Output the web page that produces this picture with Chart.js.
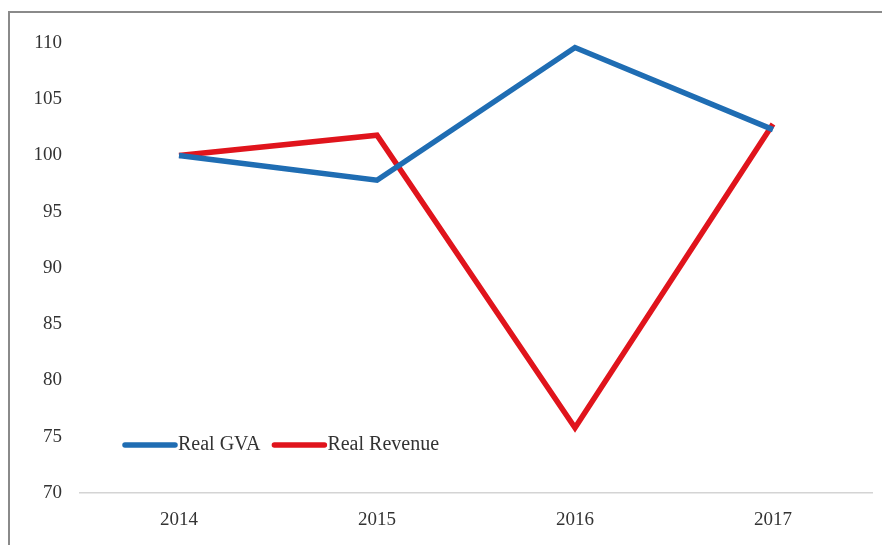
<!DOCTYPE html>
<html>
<head>
<meta charset="utf-8">
<script src="https://cdn.jsdelivr.net/npm/chart.js@4/dist/chart.umd.min.js"></script>
<style>
  body { margin: 0; background: #fff; }
  #wrap { position: relative; width: 882px; height: 545px; overflow: hidden; }
  #frame { position: absolute; left: 8px; top: 11px; width: 900px; height: 600px; border: 2px solid #8a8a8a; box-sizing: border-box; }
  #myChart { position: absolute; left: 0; top: 0; }
</style>
</head>
<body>
<div id="wrap">
  <div id="frame"></div>
  <canvas id="myChart" width="882" height="545"></canvas>
</div>
<script>
const years = ["2014", "2015", "2016", "2017"];
const realGVA = [100, 97.8, 109.6, 102.3];
const realRevenue = [100, 101.8, 75.8, 102.8];

// legend drawn inside the plot, bottom-left
const innerLegend = {
  id: "innerLegend",
  afterDatasetsDraw(chart) {
    const ctx = chart.ctx;
    let x = 123;
    const y = 445;
    ctx.save();
    ctx.font = "20px 'Liberation Serif'";
    ctx.textBaseline = "middle";
    chart.data.datasets.forEach((ds) => {
      ctx.strokeStyle = ds.borderColor;
      ctx.lineWidth = 5.5;
      ctx.lineCap = "round";
      ctx.beginPath();
      ctx.moveTo(x + 2, y);
      ctx.lineTo(x + 52, y);
      ctx.stroke();
      ctx.fillStyle = "#333";
      ctx.fillText(ds.label, x + 55, y);
      x += 55 + ctx.measureText(ds.label).width + 12;
    });
    ctx.restore();
  },
};

const ctx = document.getElementById("myChart");

new Chart(ctx, {
  type: "line",
  data: {
    labels: years,
    datasets: [
      {
        label: "Real GVA",
        data: realGVA,
        borderColor: "#1f6db3",
        borderWidth: 5.5,
        pointRadius: 0,
        tension: 0,
      },
      {
        label: "Real Revenue",
        data: realRevenue,
        borderColor: "#e0141c",
        borderWidth: 5.5,
        pointRadius: 0,
        tension: 0,
      },
    ],
  },
  options: {
    responsive: false,
    animation: false,
    layout: { padding: { top: 43, right: 10, left: 0, bottom: 0 } },
    plugins: {
      legend: { display: false },
      tooltip: { enabled: false },
    },
    scales: {
      x: {
        offset: true,
        grid: { display: false, drawTicks: false },
        border: { display: true, color: "#d4d4d4", width: 1.5 },
        ticks: {
          color: "#333",
          font: { family: "'Liberation Serif'", size: 19 },
          padding: 16,
        },
        afterFit(scale) { scale.height = 52; },
      },
      y: {
        min: 70,
        max: 110,
        grid: { display: false, drawTicks: false },
        border: { display: false },
        ticks: {
          stepSize: 5,
          color: "#333",
          font: { family: "'Liberation Serif'", size: 19 },
          padding: 18,
        },
        afterFit(scale) { scale.width = 80; },
      },
    },
  },
  plugins: [innerLegend],
});
</script>
</body>
</html>
